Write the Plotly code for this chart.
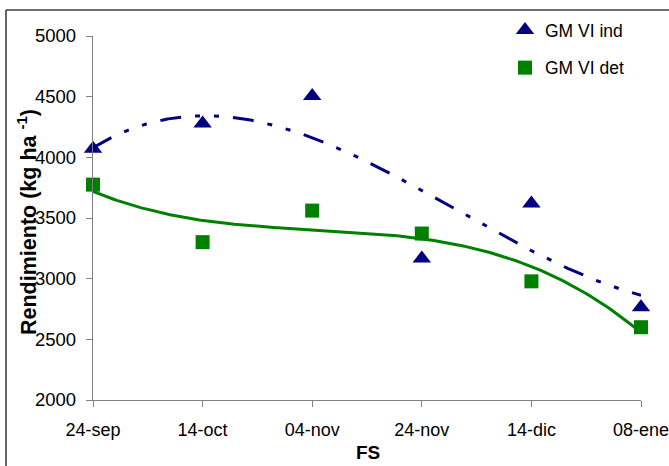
import numpy as np
import plotly.graph_objects as go

# ---- data ----
fechas = ["24-sep", "14-oct", "04-nov", "24-nov", "14-dic", "08-ene"]
gm_vi_ind = [4070, 4279, 4506, 3167, 3619, 2764]
gm_vi_det = [3775, 3301, 3561, 3372, 2978, 2600]
y_ticks = [2000, 2500, 3000, 3500, 4000, 4500, 5000]

xi = np.arange(len(fechas))
xs = np.linspace(0, len(fechas) - 1, 300)
# third-order polynomial trendlines fitted to each series
fit_ind = np.polyval(np.polyfit(xi, gm_vi_ind, 3), xs)
fit_det = np.polyval(np.polyfit(xi, gm_vi_det, 3), xs)

BLUE = "#000080"
GREEN = "#008000"
FONT = "Arial, 'Liberation Sans', sans-serif"

fig = go.Figure()
fig.add_trace(go.Scatter(x=xs, y=fit_ind, mode="lines", showlegend=False,
                         line=dict(color=BLUE, width=3, dash="21px,14px,5px,14px,5px,14px"),
                         hoverinfo="skip"))
fig.add_trace(go.Scatter(x=xs, y=fit_det, mode="lines", showlegend=False,
                         line=dict(color=GREEN, width=3), hoverinfo="skip"))
fig.add_trace(go.Scatter(x=xi, y=gm_vi_ind, mode="markers", name="GM VI ind",
                         legendgroup="a", cliponaxis=False,
                         marker=dict(symbol="triangle-up", size=16, color=BLUE)))
fig.add_trace(go.Scatter(x=xi, y=gm_vi_det, mode="markers", name="GM VI det",
                         legendgroup="b", cliponaxis=False,
                         marker=dict(symbol="square", size=14, color=GREEN)))

W, H = 669, 466
L, R, T, B = 93, 28, 36, 66
pw, ph = W - L - R, H - T - B


def px(xp):
    return (xp - L) / pw


def py(yp):
    return (H - B - yp) / ph


fig.update_layout(
    width=W, height=H,
    margin=dict(l=L, r=R, t=T, b=B, pad=0, autoexpand=False),
    paper_bgcolor="white", plot_bgcolor="white",
    font=dict(family=FONT, size=18.5, color="black"),
    showlegend=True,
    legend=dict(x=px(505), y=py(12), xanchor="left", yanchor="top",
                font=dict(size=17.5, family=FONT), bgcolor="rgba(0,0,0,0)",
                traceorder="grouped", tracegroupgap=12, itemwidth=30),
    xaxis=dict(range=[0, len(fechas) - 1], tickmode="array", tickvals=list(xi),
               ticktext=fechas, showgrid=False, zeroline=False, automargin=False,
               showline=True, linecolor="#808080", linewidth=1.3,
               ticks="outside", ticklen=6, tickcolor="#808080", tickwidth=1.3,
               ticklabelstandoff=7, ticklabeloverflow="allow", tickfont=dict(size=18)),
    yaxis=dict(range=[2000, 5000], tickmode="array", tickvals=y_ticks,
               showgrid=False, zeroline=False, automargin=False,
               showline=True, linecolor="#808080", linewidth=1.3,
               ticks="outside", ticklen=6, tickcolor="#808080", tickwidth=1.3,
               ticklabelstandoff=6, tickfont=dict(size=18.5)),
    annotations=[
        dict(text="<b>Rendimiento (kg ha <sup>-1</sup>)</b>", x=px(27), y=py(222),
             xref="paper", yref="paper", textangle=-90, showarrow=False,
             xanchor="center", yanchor="middle", font=dict(size=21.5, family=FONT)),
        dict(text="<b>FS</b>", x=px(368), y=py(452), xref="paper", yref="paper",
             showarrow=False, xanchor="center", yanchor="middle",
             font=dict(size=19, family=FONT)),
    ],
    shapes=[
        dict(type="line", xref="paper", yref="paper", x0=px(6), x1=px(6),
             y0=py(10), y1=py(470), line=dict(color="#404040", width=1.6)),
        dict(type="line", xref="paper", yref="paper", x0=px(6), x1=px(672),
             y0=py(10), y1=py(10), line=dict(color="#404040", width=1.6)),
    ],
)

fig.write_html(
    "out.html",
    config={"displayModeBar": False},
    post_script="document.body.style.margin='0';document.body.style.padding='0';",
)
